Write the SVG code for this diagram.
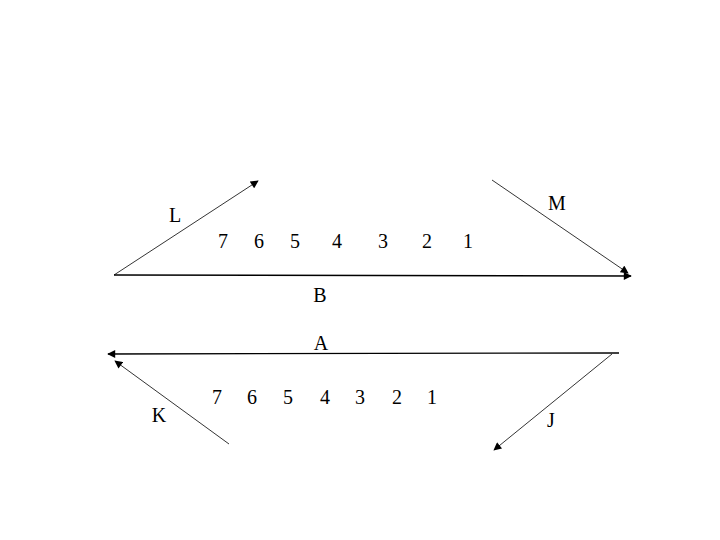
<svg xmlns="http://www.w3.org/2000/svg" width="720" height="540" viewBox="0 0 720 540">
<style>
.t{font-family:"Liberation Serif","Times New Roman",serif;font-size:20px;fill:#000;text-anchor:middle}
.thin{stroke:#000;stroke-width:0.8;fill:none}
.thick{stroke:#000;stroke-width:1.3;fill:none}
</style>
<defs>
<marker id="ah" viewBox="0 0 10 10" refX="9" refY="5" markerWidth="9" markerHeight="8" markerUnits="userSpaceOnUse" orient="auto">
<path d="M0,0 L10,5 L0,10 z" fill="#000"/>
</marker>
</defs>
<rect width="720" height="540" fill="#fff"/>
<g id="connectors">
<line id="B" class="thick" x1="114" y1="275" x2="631" y2="276" marker-end="url(#ah)"/>
<line id="L" class="thin" x1="114" y1="275" x2="258" y2="181" marker-end="url(#ah)"/>
<line id="M" class="thin" x1="492" y1="180" x2="628" y2="273" marker-end="url(#ah)"/>
<line id="A" class="thick" x1="619" y1="353" x2="108" y2="354" marker-end="url(#ah)"/>
<line id="K" class="thin" x1="229" y1="444" x2="115" y2="361" marker-end="url(#ah)"/>
<line id="J" class="thin" x1="612" y1="354" x2="494" y2="450" marker-end="url(#ah)"/>
</g>
<g id="labels">
<text class="t" x="175" y="222">L</text>
<text class="t" x="557" y="210">M</text>
<text class="t" x="320" y="302">B</text>
<text class="t" x="321" y="350">A</text>
<text class="t" x="159" y="422">K</text>
<text class="t" x="551" y="427">J</text>
</g>
<g id="top-numbers">
<text class="t" x="223" y="248">7</text>
<text class="t" x="259" y="248">6</text>
<text class="t" x="295" y="248">5</text>
<text class="t" x="337" y="248">4</text>
<text class="t" x="383" y="248">3</text>
<text class="t" x="427" y="248">2</text>
<text class="t" x="468" y="248">1</text>
</g>
<g id="bottom-numbers">
<text class="t" x="217" y="404">7</text>
<text class="t" x="252" y="404">6</text>
<text class="t" x="288" y="404">5</text>
<text class="t" x="325" y="404">4</text>
<text class="t" x="360" y="404">3</text>
<text class="t" x="397" y="404">2</text>
<text class="t" x="432" y="404">1</text>
</g>
</svg>
